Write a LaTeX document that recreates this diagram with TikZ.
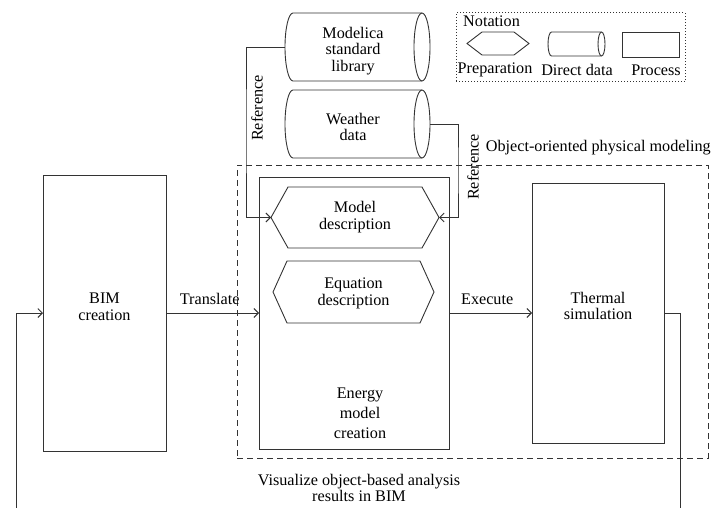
\documentclass[tikz,border=0pt]{standalone}
\usepackage{fontspec}
\setmainfont{Liberation Serif}
\usetikzlibrary{arrows.meta}
\definecolor{ln}{HTML}{333333}
\tikzset{
  base/.style={draw=none, inner sep=0pt, outer sep=0pt, rectangle},
  procbox/.style={draw=ln, line width=0.9pt, inner sep=0pt, outer sep=0pt, rectangle},
  shapeline/.style={draw=ln, line width=0.9pt, line join=miter},
  txt/.style={inner sep=0pt, align=center, font=\fontsize{16.2}{16.8}\selectfont, text=black},
  conn/.style={draw=ln, line width=0.9pt},
  arr/.style={conn, -{Straight Barb[length=4.5pt,width=9pt,line width=0.9pt]}},
  groupbox/.style={draw=ln, line width=0.9pt, dash pattern=on 6pt off 4pt, inner sep=0pt, outer sep=0pt, rectangle},
  notebox/.style={draw=ln, line width=1pt, dash pattern=on 0.8pt off 2.2pt, inner sep=0pt, outer sep=0pt, rectangle}
}
\newcommand{\hexdraw}[2]{%
  \draw[shapeline] (#1.west) -- ([xshift=#2pt]#1.north west) -- ([xshift=-#2pt]#1.north east)
    -- (#1.east) -- ([xshift=-#2pt]#1.south east) -- ([xshift=#2pt]#1.south west) -- cycle;}
\newcommand{\cyldraw}[3]{%
  \draw[shapeline] ([xshift=#2pt]#1.north west) -- ([xshift=-#2pt]#1.north east)
    arc[start angle=90, end angle=-90, x radius=#2pt, y radius=#3pt]
    -- ([xshift=#2pt]#1.south west)
    arc[start angle=270, end angle=90, x radius=#2pt, y radius=#3pt] -- cycle;
  \draw[shapeline] ([xshift=-#2pt]#1.north east)
    arc[start angle=90, end angle=270, x radius=#2pt, y radius=#3pt];}
\begin{document}
\begin{tikzpicture}[x=1pt, y=-1pt]
\useasboundingbox (0,0) rectangle (714,508);

% group box
\node[groupbox, minimum width=471, minimum height=293] (oopm) at (472.5,311.5) {};
\node[txt, anchor=east] (oopmlbl) at (711,148) {Object-oriented physical modeling};

% data cylinders
\node[base, minimum width=145, minimum height=68] (lib) at (357.5,47) {};
\cyldraw{lib}{8}{34}
\node[txt] (libtxt) at (353,51) {Modelica\\standard\\library};
\node[base, minimum width=145, minimum height=68] (wea) at (357.5,124) {};
\cyldraw{wea}{8}{34}
\node[txt] (weatxt) at (353,127) {Weather\\data};

% processes
\node[procbox, minimum width=123, minimum height=276] (bim) at (104.5,313) {};
\node[txt] (bimtxt) at (104.5,307) {BIM\\creation};
\node[procbox, minimum width=190, minimum height=272] (emc) at (354,313) {};
\node[txt, font=\fontsize{16.2}{20}\selectfont] (emctxt) at (360,413) {Energy\\model\\creation};
\node[procbox, minimum width=132, minimum height=260] (thermal) at (598,313) {};
\node[txt] (thermaltxt) at (598,306) {Thermal\\simulation};

% preparation hexagons
\node[base, minimum width=168, minimum height=61] (model) at (355,217.5) {};
\hexdraw{model}{17}
\node[txt] (modeltxt) at (355,217.5) {Model\\description};
\node[base, minimum width=161, minimum height=62] (eqn) at (353.5,292) {};
\hexdraw{eqn}{14}
\node[txt] (eqntxt) at (353.5,293) {Equation\\description};

% reference connectors
\coordinate (cL) at (246,130);
\coordinate (cR) at (458,170);
\draw[arr] (lib.west) -| (cL) |- (model.west);
\draw[arr] (wea.east) -| (cR) |- (model.east);
\node[txt, rotate=90] (refL) at (257,108) {Reference};
\node[txt, rotate=90] (refR) at (473,167) {Reference};

% main flow
\draw[arr] (bim.east) -- node[txt, above=8pt, pos=0.47] (translbl) {Translate} (emc.west);
\draw[arr] (emc.east) -- node[txt, above=8pt, pos=0.46] (execlbl) {Execute} (thermal.west);

% feedback
\coordinate (fbR) at (680,508);
\coordinate (fbL) at (16,508);
\draw[conn] (thermal.east) -| (fbR);
\draw[arr] (fbL) |- (bim.west);
\node[txt] (vistxt) at (359,488) {Visualize object-based analysis\\results in BIM};

% notation
\node[notebox, minimum width=229, minimum height=69] (nota) at (570.5,47.5) {};
\node[txt, anchor=west] (notatxt) at (463,21) {Notation};
\node[base, minimum width=62, minimum height=23] (nhex) at (498,43.5) {};
\hexdraw{nhex}{15}
\node[base, minimum width=57, minimum height=24] (ncyl) at (576.5,44) {};
\cyldraw{ncyl}{3.5}{12}
\node[procbox, minimum width=57, minimum height=25] (nproc) at (650.5,44.5) {};
\node[txt] (nhextxt) at (495,70) {Preparation};
\node[txt] (ncyltxt) at (577,70) {Direct data};
\node[txt] (nproctxt) at (656,70) {Process};
\end{tikzpicture}
\end{document}
